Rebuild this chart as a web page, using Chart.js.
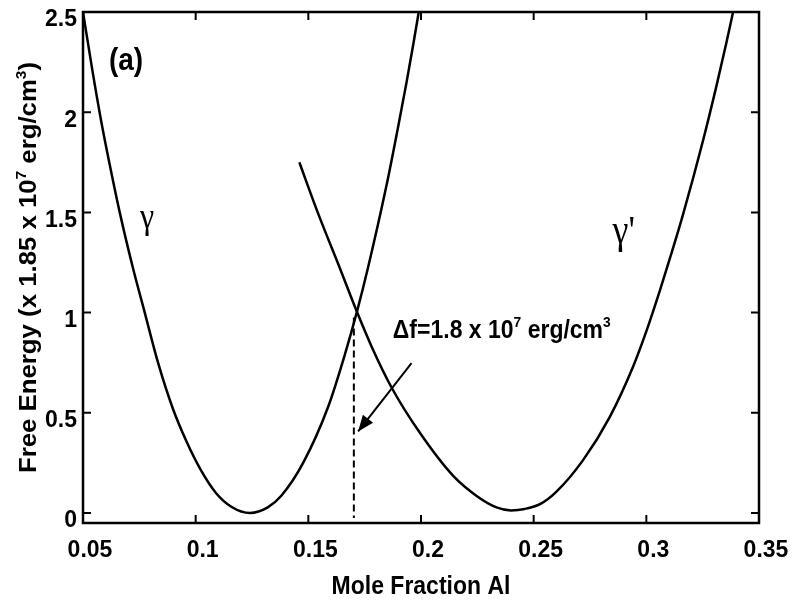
<!DOCTYPE html>
<html>
<head>
<meta charset="utf-8">
<script src="https://cdn.jsdelivr.net/npm/chart.js@4.4.0/dist/chart.umd.min.js"></script>
<style>
  html, body { margin: 0; padding: 0; background: #fff; }
  #wrap { width: 793px; height: 602px; }
</style>
</head>
<body>
<div id="wrap"><canvas id="energyChart" width="793" height="602"></canvas></div>
<script>
// gamma (fcc) free energy vs mole fraction Al
const gammaX = [0.0500, 0.0540, 0.0580, 0.0620, 0.0663, 0.0720, 0.0774, 0.0833, 0.0899, 0.0960,
  0.1020, 0.1090, 0.1160, 0.1241, 0.1320, 0.1380, 0.1477, 0.1588, 0.1662, 0.1717,
  0.1765, 0.1847, 0.1899, 0.1936, 0.1966, 0.1990];
const gammaY = [2.50, 2.22, 1.96, 1.73, 1.50, 1.23, 1.00, 0.75, 0.52, 0.355,
  0.22, 0.10, 0.03, 0.0, 0.028, 0.086, 0.25, 0.53, 0.79, 1.01,
  1.225, 1.635, 1.93, 2.15, 2.34, 2.50];

// gamma prime (L1_2) free energy
const primeX = [0.1460, 0.1545, 0.1637, 0.1717, 0.1781, 0.1870, 0.1995, 0.2143, 0.2247, 0.2335,
  0.2400, 0.2460, 0.2530, 0.2600, 0.2720, 0.2838, 0.2941, 0.3001, 0.3060, 0.3110,
  0.3163, 0.3252, 0.3311, 0.3356, 0.3385];
const primeY = [1.75, 1.49, 1.23, 1.00, 0.83, 0.625, 0.40, 0.185, 0.085, 0.028,
  0.013, 0.020, 0.045, 0.105, 0.265, 0.48, 0.73, 0.91, 1.11, 1.29,
  1.49, 1.86, 2.13, 2.35, 2.50];

// driving force drop line at the crossing, and the pointer to it
const dropX = [0.1702, 0.1702];
const dropY = [0.975, -0.025];
const arrowX = [0.1958, 0.1721];
const arrowY = [0.748, 0.407];

const xTicks = [0.05, 0.1, 0.15, 0.2, 0.25, 0.3, 0.35];
const yTicks = [0, 0.5, 1, 1.5, 2, 2.5];

const FAMILY = "'Liberation Sans', Arial, Helvetica, sans-serif";
const SERIF = "'Liberation Serif', 'Times New Roman', serif";
const STRETCH = 1.12;

const yTitle = [
  { text: "Free Energy (x 1.85 x 10" }, { text: "7", sup: true },
  { text: " erg/cm" }, { text: "3", sup: true }, { text: ")" }
];
const xTitle = [{ text: "Mole Fraction Al" }];
const dfLabel = [
  { text: "\u0394f=1.8 x 10" }, { text: "7", sup: true },
  { text: " erg/cm" }, { text: "3", sup: true }
];

function toPoints(xs, ys) {
  return xs.map((v, i) => ({ x: v, y: ys[i] }));
}

// draws a run of text with superscripts, y is the baseline
function drawRich(ctx, runs, x, y, size, align) {
  const parts = runs.map(r => {
    const s = r.sup ? size * 0.6 : size;
    ctx.font = "bold " + s + "px " + FAMILY;
    return { text: r.text, sup: r.sup, size: s, w: ctx.measureText(r.text).width };
  });
  const total = parts.reduce((acc, p) => acc + p.w, 0);
  let cx = align === "center" ? x - total / 2 : x;
  ctx.textAlign = "left";
  ctx.textBaseline = "alphabetic";
  parts.forEach(p => {
    ctx.font = "bold " + p.size + "px " + FAMILY;
    ctx.fillText(p.text, cx, p.sup ? y - size * 0.42 : y);
    cx += p.w;
  });
}

const framePlugin = {
  id: "frame",
  afterDatasetsDraw(chart) {
    const { ctx, chartArea: a, scales } = chart;
    const xs = scales.x, ys = scales.y;
    ctx.save();
    ctx.strokeStyle = "#000";
    ctx.fillStyle = "#000";

    // box and inward ticks on all four sides
    ctx.lineWidth = 2.5;
    ctx.strokeRect(a.left, a.top, a.right - a.left, a.bottom - a.top);
    ctx.lineWidth = 2;
    ctx.beginPath();
    xTicks.forEach(v => {
      const px = xs.getPixelForValue(v);
      ctx.moveTo(px, a.bottom); ctx.lineTo(px, a.bottom - 8);
      ctx.moveTo(px, a.top); ctx.lineTo(px, a.top + 8);
    });
    yTicks.forEach(v => {
      const py = ys.getPixelForValue(v);
      ctx.moveTo(a.left, py); ctx.lineTo(a.left + 8, py);
      ctx.moveTo(a.right, py); ctx.lineTo(a.right - 8, py);
    });
    ctx.stroke();

    // arrowhead on the pointer
    const pts = chart.getDatasetMeta(3).data;
    const p0 = pts[0], p1 = pts[1];
    const ang = Math.atan2(p1.y - p0.y, p1.x - p0.x);
    const L = 16, W = 6.5;
    const bx = p1.x - L * Math.cos(ang), by = p1.y - L * Math.sin(ang);
    ctx.beginPath();
    ctx.moveTo(p1.x, p1.y);
    ctx.lineTo(bx - W * Math.sin(ang), by + W * Math.cos(ang));
    ctx.lineTo(bx + W * Math.sin(ang), by - W * Math.cos(ang));
    ctx.closePath();
    ctx.fill();

    // panel tag and phase labels
    ctx.save();
    ctx.translate(xs.getPixelForValue(0.0615), ys.getPixelForValue(2.21));
    ctx.scale(1, STRETCH);
    drawRich(ctx, [{ text: "(a)" }], 0, 0, 28, "left");
    ctx.restore();

    ctx.save();
    ctx.translate(xs.getPixelForValue(0.0784), ys.getPixelForValue(1.422));
    ctx.scale(1, STRETCH);
    ctx.font = "32px " + SERIF;
    ctx.textAlign = "center";
    ctx.textBaseline = "alphabetic";
    ctx.fillText("\u03b3", 0, 0);
    ctx.restore();

    ctx.save();
    ctx.translate(xs.getPixelForValue(0.290), ys.getPixelForValue(1.347));
    ctx.scale(1, STRETCH);
    ctx.font = "36px " + SERIF;
    ctx.textAlign = "center";
    ctx.textBaseline = "alphabetic";
    ctx.fillText("\u03b3'", 0, 0);
    ctx.restore();

    ctx.save();
    ctx.translate(xs.getPixelForValue(0.1875), ys.getPixelForValue(0.873));
    ctx.scale(1, STRETCH);
    drawRich(ctx, dfLabel, 0, 0, 23, "left");
    ctx.restore();

    // axis titles
    ctx.save();
    ctx.translate((a.left + a.right) / 2, 594);
    ctx.scale(1, STRETCH);
    drawRich(ctx, xTitle, 0, 0, 23, "center");
    ctx.restore();

    ctx.save();
    ctx.translate(36, (a.top + a.bottom) / 2);
    ctx.rotate(-Math.PI / 2);
    ctx.scale(STRETCH, 1);
    drawRich(ctx, yTitle, 0, 0, 23, "center");
    ctx.restore();

    ctx.restore();
  }
};

const tickFont = { family: FAMILY, size: 23, weight: "bold" };

new Chart(document.getElementById("energyChart"), {
  type: "line",
  data: {
    datasets: [
      {
        label: "\u03b3",
        data: toPoints(gammaX, gammaY),
        borderColor: "#000",
        borderWidth: 2.5,
        pointRadius: 0,
        cubicInterpolationMode: "monotone",
        fill: false
      },
      {
        label: "\u03b3'",
        data: toPoints(primeX, primeY),
        borderColor: "#000",
        borderWidth: 2.5,
        pointRadius: 0,
        cubicInterpolationMode: "monotone",
        fill: false
      },
      {
        label: "drop",
        data: toPoints(dropX, dropY),
        borderColor: "#000",
        borderWidth: 2,
        borderDash: [7, 4],
        pointRadius: 0,
        tension: 0,
        fill: false
      },
      {
        label: "arrow",
        data: toPoints(arrowX, arrowY),
        borderColor: "#000",
        borderWidth: 2,
        pointRadius: 0,
        tension: 0,
        fill: false
      }
    ]
  },
  options: {
    responsive: false,
    devicePixelRatio: 1,
    animation: false,
    layout: { padding: { top: 12, right: 34, left: 0, bottom: 0 } },
    plugins: {
      legend: { display: false },
      tooltip: { enabled: false }
    },
    scales: {
      x: {
        type: "linear",
        min: 0.05,
        max: 0.35,
        grid: { display: false, drawTicks: false },
        border: { display: false },
        ticks: {
          color: "#000",
          font: tickFont,
          padding: 14,
          labelOffset: 7,
          maxRotation: 0,
          callback: v => String(v)
        },
        afterBuildTicks: s => { s.ticks = xTicks.map(v => ({ value: v })); },
        afterFit: s => { s.height = 79; s.paddingLeft = 0; s.paddingRight = 0; }
      },
      y: {
        min: -0.05,
        max: 2.5,
        grid: { display: false, drawTicks: false },
        border: { display: false },
        ticks: {
          color: "#000",
          font: tickFont,
          padding: 6,
          labelOffset: 8,
          callback: v => String(v)
        },
        afterBuildTicks: s => { s.ticks = yTicks.map(v => ({ value: v })); },
        afterFit: s => { s.width = 83; s.paddingTop = 0; s.paddingBottom = 0; }
      }
    }
  },
  plugins: [framePlugin]
});
</script>
</body>
</html>
